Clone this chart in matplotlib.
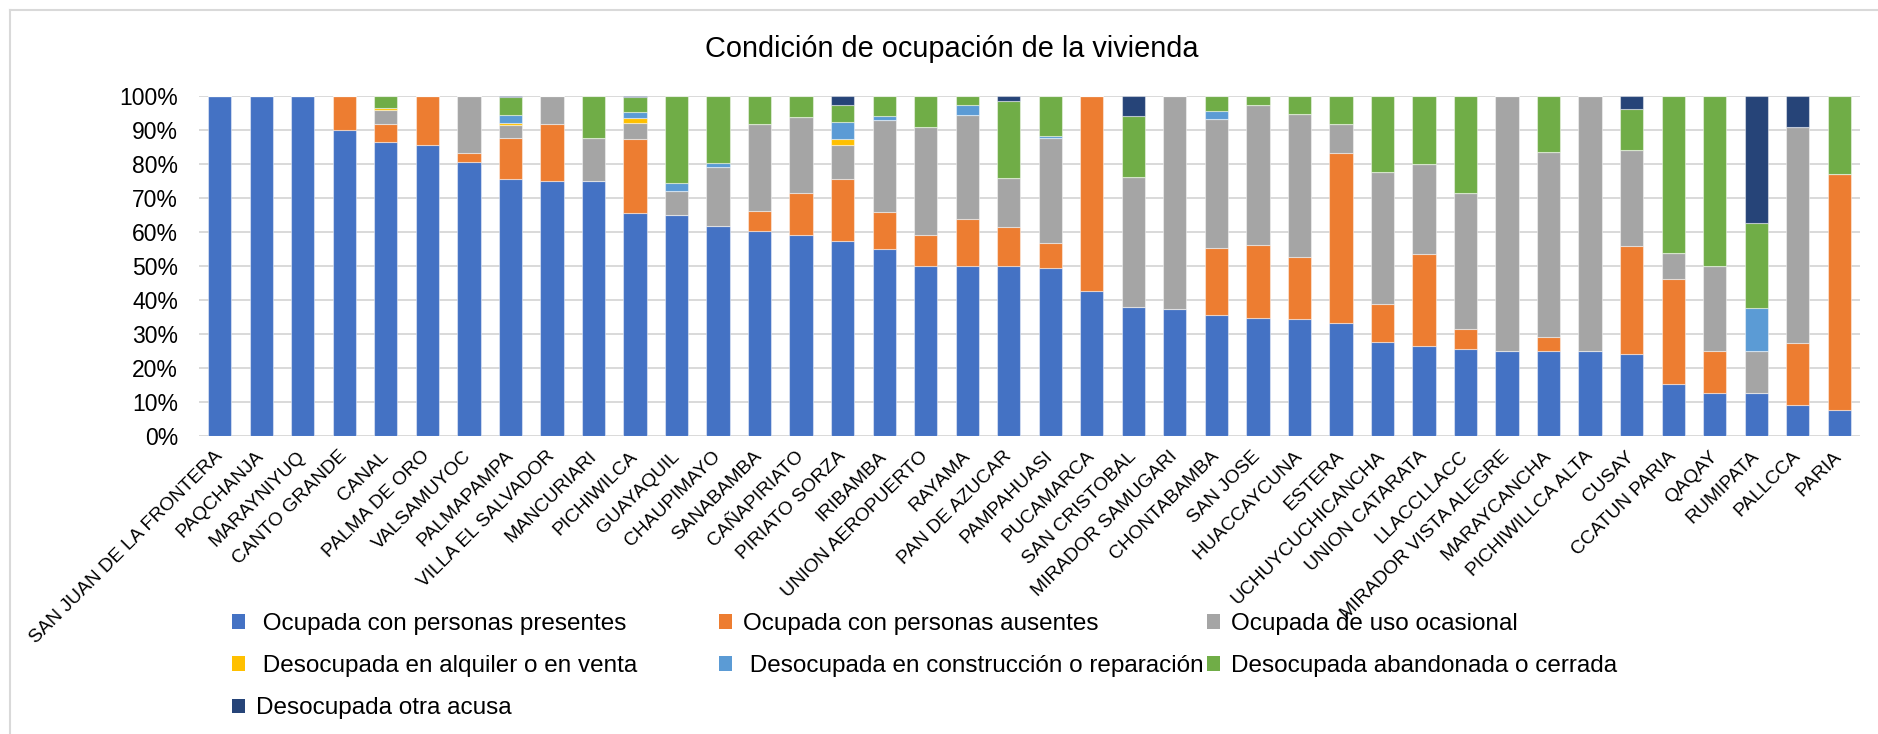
import matplotlib
matplotlib.use("Agg")
import matplotlib.pyplot as plt
import numpy as np
from matplotlib.lines import Line2D
from matplotlib.patches import Patch

localidades = [
    "SAN JUAN DE LA FRONTERA", "PAQCHANJA", "MARAYNIYUQ", "CANTO GRANDE", "CANAL",
    "PALMA DE ORO", "VALSAMUYOC", "PALMAPAMPA", "VILLA EL SALVADOR", "MANCURIARI",
    "PICHIWILCA", "GUAYAQUIL", "CHAUPIMAYO", "SANABAMBA", "CAÑAPIRIATO",
    "PIRIATO SORZA", "IRIBAMBA", "UNION AEROPUERTO", "RAYAMA", "PAN DE AZUCAR",
    "PAMPAHUASI", "PUCAMARCA", "SAN CRISTOBAL", "MIRADOR SAMUGARI", "CHONTABAMBA",
    "SAN JOSE", "HUACCAYCUNA", "ESTERA", "UCHUYCUCHICANCHA", "UNION CATARATA",
    "LLACCLLACC", "MIRADOR VISTA ALEGRE", "MARAYCANCHA", "PICHIWILLCA ALTA", "CUSAY",
    "CCATUN PARIA", "QAQAY", "RUMIPATA", "PALLCCA", "PARIA",
]

# porcentajes (cada barra suma 100)
presentes = [100, 100, 100, 90, 86.5, 85.6, 80.5, 75.5, 75, 75,
             65.6, 65, 61.8, 60.3, 59.1, 57.4, 54.9, 50, 50, 50,
             49.2, 42.7, 37.9, 37.4, 35.5, 34.5, 34.4, 33.2, 27.6, 26.5,
             25.6, 25, 25, 25, 23.9, 15.3, 12.5, 12.5, 9.1, 7.7]
ausentes = [0, 0, 0, 10, 5.3, 14.4, 2.7, 12.2, 16.7, 0,
            21.7, 0, 0, 5.8, 12.2, 18.0, 11.0, 9.0, 13.8, 11.4,
            7.4, 57.3, 0, 0, 19.6, 21.5, 18.2, 50.0, 11.2, 26.8,
            5.7, 0, 4.1, 0, 32.0, 30.7, 12.5, 0, 18.2, 69.2]
ocasional = [0, 0, 0, 0, 4.0, 0, 16.8, 3.7, 8.3, 12.5,
             4.7, 7.1, 17.1, 25.5, 22.4, 10.1, 27.1, 31.9, 30.5, 14.3,
             30.9, 0, 38.2, 62.6, 38.0, 41.3, 41.9, 8.5, 38.9, 26.6,
             40.0, 75, 54.2, 75, 28.0, 7.7, 25, 12.5, 63.6, 0]
alquiler = [0, 0, 0, 0, 0.7, 0, 0, 0.7, 0, 0,
            1.5, 0, 0, 0, 0, 1.7, 0, 0, 0, 0,
            0, 0, 0, 0, 0, 0, 0, 0, 0, 0,
            0, 0, 0, 0, 0, 0, 0, 0, 0, 0]
construccion = [0, 0, 0, 0, 0, 0, 0, 2.1, 0, 0,
                1.8, 2.3, 1.3, 0, 0, 5.1, 1.0, 0, 2.9, 0,
                0.6, 0, 0, 0, 2.3, 0, 0, 0, 0, 0,
                0, 0, 0, 0, 0, 0, 0, 12.5, 0, 0]
abandonada = [0, 0, 0, 0, 3.5, 0, 0, 5.5, 0, 12.5,
              4.4, 25.6, 19.8, 8.4, 6.3, 5.1, 6.0, 9.1, 2.8, 22.8,
              11.9, 0, 17.9, 0, 4.6, 2.7, 5.5, 8.3, 22.3, 20.1,
              28.7, 0, 16.7, 0, 12.1, 46.3, 50, 25, 0, 23.1]
otra = [0, 0, 0, 0, 0, 0, 0, 0.3, 0, 0,
        0.3, 0, 0, 0, 0, 2.6, 0, 0, 0, 1.5,
        0, 0, 6.0, 0, 0, 0, 0, 0, 0, 0,
        0, 0, 0, 0, 4.0, 0, 0, 37.5, 9.1, 0]

series = [
    (" Ocupada con personas presentes", presentes, "#4472C4"),
    ("Ocupada con personas ausentes", ausentes, "#ED7D31"),
    ("Ocupada de uso ocasional", ocasional, "#A5A5A5"),
    (" Desocupada en alquiler o en venta", alquiler, "#FFC000"),
    (" Desocupada en construcción o reparación", construccion, "#5B9BD5"),
    ("Desocupada abandonada o cerrada", abandonada, "#70AD47"),
    ("Desocupada otra acusa", otra, "#264478"),
]

y_ticks = [0, 10, 20, 30, 40, 50, 60, 70, 80, 90, 100]
y_labels = [f"{t}%" for t in y_ticks]

W, H = 1878, 734


def main():
    plt.rcParams["font.family"] = ["Liberation Sans", "DejaVu Sans"]

    fig = plt.figure(figsize=(W / 100, H / 100), dpi=100)
    ax = fig.add_axes([199 / W, 1 - 435.7 / H, (1860 - 199) / W, (435.7 - 95.7) / H])

    x = np.arange(len(localidades))
    bottom = np.zeros(len(localidades))
    for name, vals, color in series:
        vals = np.array(vals, dtype=float)
        ax.bar(x, vals, width=0.56, bottom=bottom, color=color,
               edgecolor=(1, 1, 1, 0.45), linewidth=0.8, zorder=3)
        bottom += vals

    ax.set_xlim(-0.5, len(localidades) - 0.5)
    ax.set_ylim(0, 100)
    ax.set_yticks(y_ticks, y_labels)
    ax.yaxis.grid(True, color="#D9D9D9", linewidth=1.4, zorder=0)
    ax.set_axisbelow(True)
    for s in ax.spines.values():
        s.set_visible(False)
    ax.tick_params(axis="y", length=0, pad=15, labelsize=16.5)
    ax.tick_params(axis="x", length=0, pad=13)
    ax.set_xticks(x)
    ax.set_xticklabels(localidades, rotation=45, ha="right", va="center",
                       rotation_mode="anchor", fontsize=13.8)

    fig.text(952 / W, 1 - 49 / H, "Condición de ocupación de la vivienda",
             ha="center", va="center", fontsize=20.8)

    # leyenda en tres columnas, como en Excel
    handles = [Patch(facecolor=c, edgecolor="none") for _, _, c in series]
    labels = [n for n, _, _ in series]
    cols = [[0, 3, 6], [1, 4], [2, 5]]
    col_x = [232, 719, 1207]
    for idx, cx in zip(cols, col_x):
        fig.legend([handles[i] for i in idx], [labels[i] for i in idx],
                   loc="upper left", bbox_to_anchor=(cx / W, 1 - 613 / H),
                   frameon=False, fontsize=17.5, borderpad=0, borderaxespad=0,
                   handlelength=0.54, handleheight=0.54, handletextpad=0.45,
                   labelspacing=0.83)

    # borde del area del grafico
    fig.add_artist(Line2D([10 / W, 10 / W], [0, 1 - 10 / H], transform=fig.transFigure,
                          color="#D9D9D9", linewidth=1.5))
    fig.add_artist(Line2D([10 / W, 1], [1 - 10 / H, 1 - 10 / H], transform=fig.transFigure,
                          color="#D9D9D9", linewidth=1.5))

    fig.savefig("out.png", dpi=100, facecolor="white")
    plt.close(fig)


if __name__ == "__main__":
    main()
